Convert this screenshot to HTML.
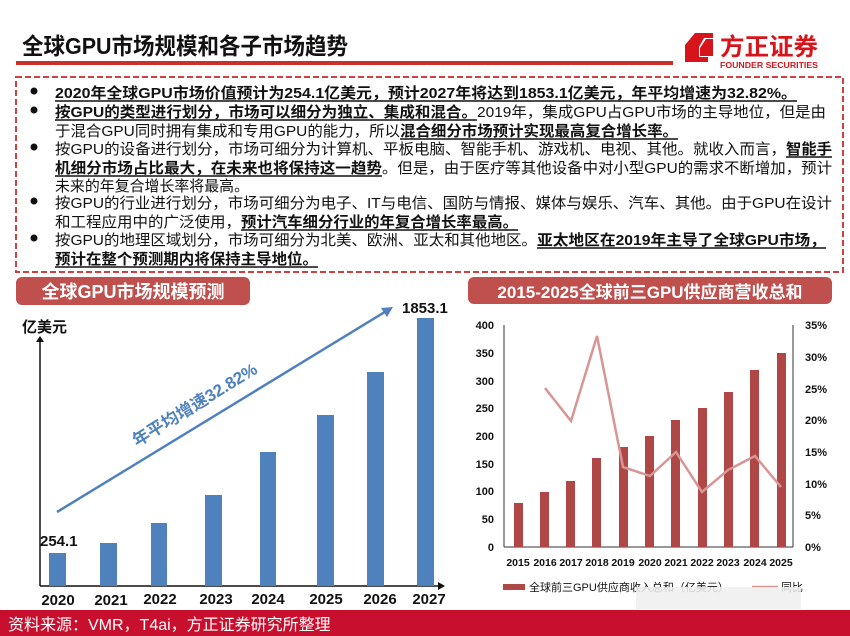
<!DOCTYPE html>
<html><head><meta charset="utf-8"><style>
html,body{margin:0;padding:0;background:#fff;}
svg{display:block;font-family:"Liberation Sans","Noto Sans CJK SC",sans-serif;}
</style></head><body>
<svg width="850" height="636" viewBox="0 0 850 636" xmlns="http://www.w3.org/2000/svg">
<text x="22" y="54" font-size="23" font-weight="bold" fill="#111" textLength="326" lengthAdjust="spacingAndGlyphs">全球GPU市场规模和各子市场趋势</text>
<rect x="16" y="61" width="657" height="4" fill="#c9302c"/>
<path d="M695 33 L713 33 L713 38 L704 38 L699 47 L699 57 L708 57 L708 62 L685 62 L685 45 Z" fill="#d7141c"/>
<path d="M700 48 L706 39 L713 39 L713 56 L700 56 Z" fill="#d7141c"/>
<text x="720" y="55" font-size="24" font-weight="bold" fill="#d7141c" textLength="98" lengthAdjust="spacingAndGlyphs">方正证券</text>
<text x="720" y="68" font-size="8" font-weight="bold" fill="#d7141c" textLength="98" lengthAdjust="spacingAndGlyphs">FOUNDER SECURITIES</text>
<rect x="16" y="77" width="827" height="195" fill="none" stroke="#d04040" stroke-width="2" stroke-dasharray="6,3"/>
<g font-size="15" fill="#111">
<circle cx="34" cy="91" r="3.5"/><circle cx="34" cy="110" r="3.5"/><circle cx="34" cy="147" r="3.5"/><circle cx="34" cy="201" r="3.5"/><circle cx="34" cy="238" r="3.5"/>
<text x="55" y="98" font-weight="bold" textLength="742" lengthAdjust="spacingAndGlyphs">2020年全球GPU市场价值预计为254.1亿美元，预计2027年将达到1853.1亿美元，年平均增速为32.82%。</text>
<text x="55" y="117" font-weight="bold" textLength="422" lengthAdjust="spacingAndGlyphs">按GPU的类型进行划分，市场可以细分为独立、集成和混合。</text>
<text x="477" y="117" textLength="349" lengthAdjust="spacingAndGlyphs">2019年，集成GPU占GPU市场的主导地位，但是由</text>
<text x="55" y="136" textLength="345" lengthAdjust="spacingAndGlyphs">于混合GPU同时拥有集成和专用GPU的能力，所以</text>
<text x="400" y="136" font-weight="bold" textLength="278" lengthAdjust="spacingAndGlyphs">混合细分市场预计实现最高复合增长率。</text>
<text x="55" y="154" textLength="731" lengthAdjust="spacingAndGlyphs">按GPU的设备进行划分，市场可细分为计算机、平板电脑、智能手机、游戏机、电视、其他。就收入而言，</text>
<text x="786" y="154" font-weight="bold" textLength="46" lengthAdjust="spacingAndGlyphs">智能手</text>
<text x="55" y="173" font-weight="bold" textLength="327" lengthAdjust="spacingAndGlyphs">机细分市场占比最大，在未来也将保持这一趋势</text>
<text x="382" y="173" textLength="450" lengthAdjust="spacingAndGlyphs">。但是，由于医疗等其他设备中对小型GPU的需求不断增加，预计</text>
<text x="55" y="191" textLength="194" lengthAdjust="spacingAndGlyphs">未来的年复合增长率将最高。</text>
<text x="55" y="208" textLength="777" lengthAdjust="spacingAndGlyphs">按GPU的行业进行划分，市场可细分为电子、IT与电信、国防与情报、媒体与娱乐、汽车、其他。由于GPU在设计</text>
<text x="55" y="227" textLength="186" lengthAdjust="spacingAndGlyphs">和工程应用中的广泛使用，</text>
<text x="241" y="227" font-weight="bold" textLength="277" lengthAdjust="spacingAndGlyphs">预计汽车细分行业的年复合增长率最高。</text>
<text x="55" y="245" textLength="482" lengthAdjust="spacingAndGlyphs">按GPU的地理区域划分，市场可细分为北美、欧洲、亚太和其他地区。</text>
<text x="537" y="245" font-weight="bold" textLength="289" lengthAdjust="spacingAndGlyphs">亚太地区在2019年主导了全球GPU市场，</text>
<text x="55" y="264" font-weight="bold" textLength="263" lengthAdjust="spacingAndGlyphs">预计在整个预测期内将保持主导地位。</text>
</g>
<g stroke="#111" stroke-width="1.5">
<line x1="55" y1="101" x2="797" y2="101"/>
<line x1="55" y1="120" x2="477" y2="120"/>
<line x1="400" y1="139" x2="678" y2="139"/>
<line x1="786" y1="157" x2="832" y2="157"/>
<line x1="55" y1="176" x2="382" y2="176"/>
<line x1="241" y1="230" x2="518" y2="230"/>
<line x1="537" y1="248" x2="826" y2="248"/>
<line x1="55" y1="267" x2="318" y2="267"/>
</g>
<rect x="16" y="277" width="234" height="28" rx="6" fill="#c0504d"/>
<text x="133" y="298" font-size="18" font-weight="bold" fill="#fff" text-anchor="middle">全球GPU市场规模预测</text>
<text x="22" y="332" font-size="15" font-weight="bold" fill="#111">亿美元</text>
<line x1="40" y1="340" x2="40" y2="586" stroke="#111" stroke-width="1.5"/>
<path d="M36 342 L40 336 L44 342 Z" fill="#111"/>
<line x1="40" y1="586" x2="440" y2="586" stroke="#111" stroke-width="1.5"/>
<path d="M438 582 L445 586 L438 590 Z" fill="#111"/>
<g fill="#4f81bd">
<rect x="49" y="553" width="17" height="33"/>
<rect x="100" y="543" width="17" height="43"/>
<rect x="151" y="523" width="16" height="63"/>
<rect x="205" y="495" width="17" height="91"/>
<rect x="260" y="452" width="16" height="134"/>
<rect x="317" y="415" width="17" height="171"/>
<rect x="367" y="372" width="17" height="214"/>
<rect x="417" y="318" width="17" height="268"/>
</g>
<line x1="57" y1="512" x2="388" y2="310" stroke="#4f81bd" stroke-width="2.5"/>
<path d="M393 307 L381 308 L387 317 Z" fill="#4f81bd"/>
<text x="0" y="0" font-size="17" font-weight="bold" fill="#4f81bd" transform="translate(137,447) rotate(-31.5)">年平均增速32.82%</text>
<text x="40" y="546" font-size="15" font-weight="bold" fill="#111">254.1</text>
<text x="402" y="313" font-size="15" font-weight="bold" fill="#111">1853.1</text>
<g font-size="15" font-weight="bold" fill="#111" text-anchor="middle">
<text x="58" y="605">2020</text><text x="111" y="605">2021</text><text x="160" y="604">2022</text><text x="216" y="604">2023</text><text x="268" y="604">2024</text><text x="326" y="604">2025</text><text x="380" y="604">2026</text><text x="429" y="604">2027</text>
</g>
<rect x="468" y="277" width="364" height="27" rx="6" fill="#c0504d"/>
<text x="650" y="298" font-size="17" font-weight="bold" fill="#fff" text-anchor="middle">2015-2025全球前三GPU供应商营收总和</text>
<g stroke="#333" stroke-width="1">
<line x1="504" y1="325" x2="504" y2="547"/>
<line x1="793" y1="325" x2="793" y2="547"/>
<line x1="504" y1="547" x2="793" y2="547"/>
</g>
<g fill="#b04747">
<rect x="514" y="503" width="9" height="44"/>
<rect x="540" y="492" width="9" height="55"/>
<rect x="566" y="481" width="9" height="66"/>
<rect x="592" y="458" width="9" height="89"/>
<rect x="619" y="447" width="9" height="100"/>
<rect x="645" y="436" width="9" height="111"/>
<rect x="671" y="420" width="9" height="127"/>
<rect x="698" y="408" width="9" height="139"/>
<rect x="724" y="392" width="9" height="155"/>
<rect x="750" y="370" width="9" height="177"/>
<rect x="777" y="353" width="9" height="194"/>
</g>
<polyline points="545,388 571,421 597,336 623,467 650,476 676,452 702,492 728,470 755,456 781,487" fill="none" stroke="#d99594" stroke-width="2.5"/>
<g font-size="11" font-weight="bold" fill="#111" text-anchor="end">
<text x="494" y="329">400</text><text x="494" y="357">350</text><text x="494" y="385">300</text><text x="494" y="412">250</text><text x="494" y="440">200</text><text x="494" y="468">150</text><text x="494" y="495">100</text><text x="494" y="523">50</text><text x="494" y="551">0</text>
</g>
<g font-size="11" font-weight="bold" fill="#111">
<text x="805" y="329">35%</text><text x="805" y="361">30%</text><text x="805" y="393">25%</text><text x="805" y="424">20%</text><text x="805" y="456">15%</text><text x="805" y="488">10%</text><text x="805" y="519">5%</text><text x="805" y="551">0%</text>
</g>
<g font-size="10.5" font-weight="bold" fill="#111" text-anchor="middle">
<text x="518" y="566">2015</text><text x="545" y="566">2016</text><text x="571" y="566">2017</text><text x="597" y="566">2018</text><text x="623" y="566">2019</text><text x="650" y="566">2020</text><text x="676" y="566">2021</text><text x="702" y="566">2022</text><text x="728" y="566">2023</text><text x="755" y="566">2024</text><text x="781" y="566">2025</text>
</g>
<rect x="503" y="584" width="22" height="6" fill="#b04747"/>
<text x="529" y="591" font-size="11" fill="#111">全球前三GPU供应商收入总和（亿美元）</text>
<line x1="752" y1="587" x2="778" y2="587" stroke="#d99594" stroke-width="2.5"/>
<text x="781" y="591" font-size="11" fill="#111">同比</text>
<rect x="636" y="587" width="165" height="22" fill="#eeeeee" opacity="0.85"/>
<rect x="0" y="610" width="850" height="26" fill="#c8102e"/>
<text x="8" y="630" font-size="16" fill="#fff">资料来源：VMR，T4ai，方正证券研究所整理</text>
</svg>
</body></html>
